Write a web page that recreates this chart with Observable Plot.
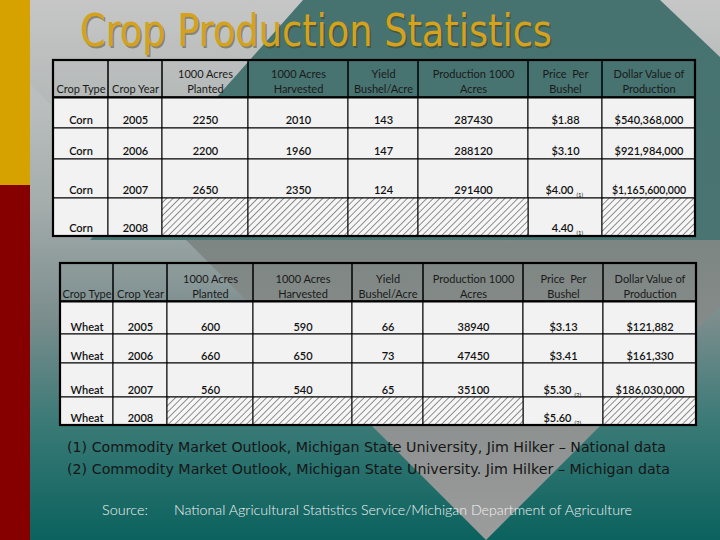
<!DOCTYPE html>
<html>
<head>
<meta charset="utf-8">
<script src="https://cdn.jsdelivr.net/npm/d3@7"></script>
<script src="https://cdn.jsdelivr.net/npm/@observablehq/plot@0.6"></script>
<style>
  html, body { margin: 0; padding: 0; background: #fff; }
  #page { position: relative; width: 720px; height: 540px; overflow: hidden;
    background: linear-gradient(180deg, #c6c6c6 0%, #b9bdbd 20%, #a6adad 37%, #7b8d8d 59%, #3b7a77 78%, #0b625e 100%); }
  .layer { position: absolute; left: 0; top: 0; width: 720px; height: 540px; }
  #tri { clip-path: polygon(-54px 0px, 1026px 0px, 486px 540px);
    background: linear-gradient(180deg, #c6c6c6 0%, #b3b8b7 20%, #7e8683 45%, #8a8f8e 75%, #9c9c9c 100%); }
  #teal { clip-path: polygon(303px 0px, 660px 0px, 720px 57px, 720px 240px, 90px 240px);
    background: linear-gradient(180deg, #467270 0%, #4d7773 100%); }
  #barTop { position: absolute; left: 0; top: 0; width: 30px; height: 185px; background: #d6a200; }
  #barBot { position: absolute; left: 0; top: 185px; width: 30px; height: 355px; background: #870000; }
  .plotlayer { position: absolute; left: 0; top: 0; }
</style>
</head>
<body>
<svg width="0" height="0" style="position:absolute">
  <defs>
    <pattern id="hatch" patternUnits="userSpaceOnUse" width="4.6" height="4.6" patternTransform="rotate(45)">
      <rect width="4.6" height="4.6" fill="#f6f6f6"></rect>
      <line x1="0" y1="0" x2="0" y2="4.6" stroke="#111" stroke-width="0.9"></line>
    </pattern>
  </defs>
</svg>
<div id="page">
  <div class="layer" id="tri"></div>
  <div class="layer" id="teal"></div>
  <div id="barTop"></div>
  <div id="barBot"></div>
</div>
<script>
// ---------- data ----------
const titleText = "Crop Production Statistics";
const columns = ["Crop Type", "Crop Year", "1000 Acres\nPlanted", "1000 Acres\nHarvested",
  "Yield\nBushel/Acre", "Production 1000\nAcres", "Price  Per\nBushel", "Dollar Value of\nProduction"];
const years = [2005, 2006, 2007, 2008];

const cornPlanted = [2250, 2200, 2650, null];
const cornHarvested = [2010, 1960, 2350, null];
const cornYield = [143, 147, 124, null];
const cornProduction = [287430, 288120, 291400, null];
const cornPrice = ["$1.88", "$3.10", "$4.00", "4.40"];
const cornPriceNote = [null, null, "(1)", "(1)"];
const cornValue = [540368000, 921984000, 1165600000, null];

const wheatPlanted = [600, 660, 560, null];
const wheatHarvested = [590, 650, 540, null];
const wheatYield = [66, 73, 65, null];
const wheatProduction = [38940, 47450, 35100, null];
const wheatPrice = ["$3.13", "$3.41", "$5.30", "$5.60"];
const wheatPriceNote = [null, null, "(2)", "(2)"];
const wheatValue = [121882, 161330, 186030000, null];

const footnotes = [
  "(1) Commodity Market Outlook, Michigan State University, Jim Hilker \u2013 National data",
  "(2) Commodity Market Outlook, Michigan State University. Jim Hilker \u2013 Michigan data"
];
const sourceLabel = "Source:";
const sourceText = "National Agricultural Statistics Service/Michigan Department of Agriculture";

// ---------- layout (not data) ----------
const layoutCorn = { left: 53, top: 60, colW: [55, 54, 86, 100, 70, 110, 74, 93], rowH: [37, 31, 31, 39, 38], dy: -5 };
const layoutWheat = { left: 60, top: 263, colW: [53, 54, 86, 99, 71, 100, 80, 93], rowH: [38, 33, 29, 34, 28], dy: -4 };

const fmtValue = d3.format(",");
const FONT = "Lato, 'Open Sans', sans-serif";

function buildTable(crop, planted, harvested, yld, production, price, priceNote, value, L) {
  const xEdges = Array.from(d3.cumsum([0, ...L.colW]));
  const yEdges = Array.from(d3.cumsum([0, ...L.rowH]));
  const W = xEdges[xEdges.length - 1], H = yEdges[yEdges.length - 1];
  const cells = [];
  columns.forEach((c, i) => cells.push({ col: i, row: 0, text: c, kind: "header" }));
  years.forEach((yr, r) => {
    const vals = [crop, yr, planted[r], harvested[r], yld[r], production[r], price[r],
      value[r] == null ? null : "$" + fmtValue(value[r])];
    vals.forEach((v, i) => cells.push({
      col: i, row: r + 1, text: v == null ? "" : String(v),
      kind: v == null ? "hatch" : "body", note: i === 6 ? priceNote[r] : null
    }));
  });
  for (const d of cells) {
    d.x1 = xEdges[d.col]; d.x2 = xEdges[d.col + 1]; d.xm = (d.x1 + d.x2) / 2;
    d.y1 = yEdges[d.row]; d.y2 = yEdges[d.row + 1];
  }
  const header = cells.filter(d => d.kind === "header");
  const body = cells.filter(d => d.kind === "body");
  const hatch = cells.filter(d => d.kind === "hatch");
  const plain = body.filter(d => !d.note);
  const noted = body.filter(d => d.note);

  return Plot.plot({
    width: 720, height: 540, margin: 0,
    x: { domain: [0, W], range: [L.left, L.left + W], axis: null },
    y: { domain: [0, H], range: [L.top, L.top + H], axis: null },
    style: { background: "transparent", fontFamily: FONT, overflow: "visible" },
    marks: [
      Plot.rect(body, { x1: "x1", x2: "x2", y1: "y1", y2: "y2", fill: "#f2f2f2", stroke: "#000", strokeWidth: 1 }),
      Plot.rect(hatch, { x1: "x1", x2: "x2", y1: "y1", y2: "y2", fill: "url(#hatch)", stroke: "#000", strokeWidth: 1 }),
      Plot.rect(header, { x1: "x1", x2: "x2", y1: "y1", y2: "y2", fill: "none", stroke: "#000", strokeWidth: 1 }),
      Plot.ruleY([yEdges[1]], { y: d => d, x1: 0, x2: W, stroke: "#000", strokeWidth: 1.8 }),
      Plot.rect([{ x1: 0, x2: W, y1: 0, y2: H }], { x1: "x1", x2: "x2", y1: "y1", y2: "y2", fill: "none", stroke: "#000", strokeWidth: 2.2 }),
      Plot.text(header, { x: "xm", y: "y2", text: "text", lineAnchor: "bottom", dy: L.dy, fontSize: 11, lineHeight: 1.36, fill: "#1a1a1a" }),
      Plot.text(plain, { x: "xm", y: "y2", text: "text", lineAnchor: "bottom", dy: L.dy, fontSize: d => d.text.length > 12 ? 10.5 : 11, fontWeight: 600, fill: "#111" }),
      Plot.text(noted, { x: "xm", y: "y2", text: "text", lineAnchor: "bottom", dy: L.dy, dx: 8, textAnchor: "end", fontSize: 11, fontWeight: 600, fill: "#111" }),
      Plot.text(noted, { x: "xm", y: "y2", text: "note", lineAnchor: "bottom", dy: L.dy + 3, dx: 11, textAnchor: "start", fontSize: 6, fill: "#111" })
    ]
  });
}

const page = document.getElementById("page");
const t1 = buildTable("Corn", cornPlanted, cornHarvested, cornYield, cornProduction, cornPrice, cornPriceNote, cornValue, layoutCorn);
const t2 = buildTable("Wheat", wheatPlanted, wheatHarvested, wheatYield, wheatProduction, wheatPrice, wheatPriceNote, wheatValue, layoutWheat);
for (const t of [t1, t2]) { t.classList.add("plotlayer"); t.style.position = "absolute"; t.style.left = "0px"; t.style.top = "0px"; page.appendChild(t); }

// ---------- title, footnotes, source (text overlay) ----------
const NS = "http://www.w3.org/2000/svg";
const over = document.createElementNS(NS, "svg");
over.setAttribute("width", 720); over.setAttribute("height", 540);
over.setAttribute("class", "plotlayer");
over.style.position = "absolute";
function addText(str, x, y, len, size, fill, family, weight) {
  const t = document.createElementNS(NS, "text");
  t.setAttribute("x", x); t.setAttribute("y", y);
  t.setAttribute("font-size", size); t.setAttribute("fill", fill);
  t.setAttribute("font-family", family);
  if (weight) t.setAttribute("font-weight", weight);
  if (len) { t.setAttribute("textLength", len); t.setAttribute("lengthAdjust", "spacingAndGlyphs"); }
  t.textContent = str;
  over.appendChild(t);
  return t;
}
addText(titleText, 81.5, 47.5, 472, 44, "rgba(70,55,0,0.45)", "'DejaVu Sans Condensed', 'DejaVu Sans', sans-serif");
addText(titleText, 80, 46, 472, 44, "#d4a21c", "'DejaVu Sans Condensed', 'DejaVu Sans', sans-serif");
addText(footnotes[0], 67, 452, 599, 14, "#161616", "'DejaVu Sans', sans-serif");
addText(footnotes[1], 67, 474, 603, 14, "#161616", "'DejaVu Sans', sans-serif");
addText(sourceLabel, 102, 515, 46, 14, "#f2f2f2", "Lato, sans-serif", 300);
addText(sourceText, 174, 515, 458, 14, "#f2f2f2", "Lato, sans-serif", 300);
page.appendChild(over);
</script>
</body>
</html>
